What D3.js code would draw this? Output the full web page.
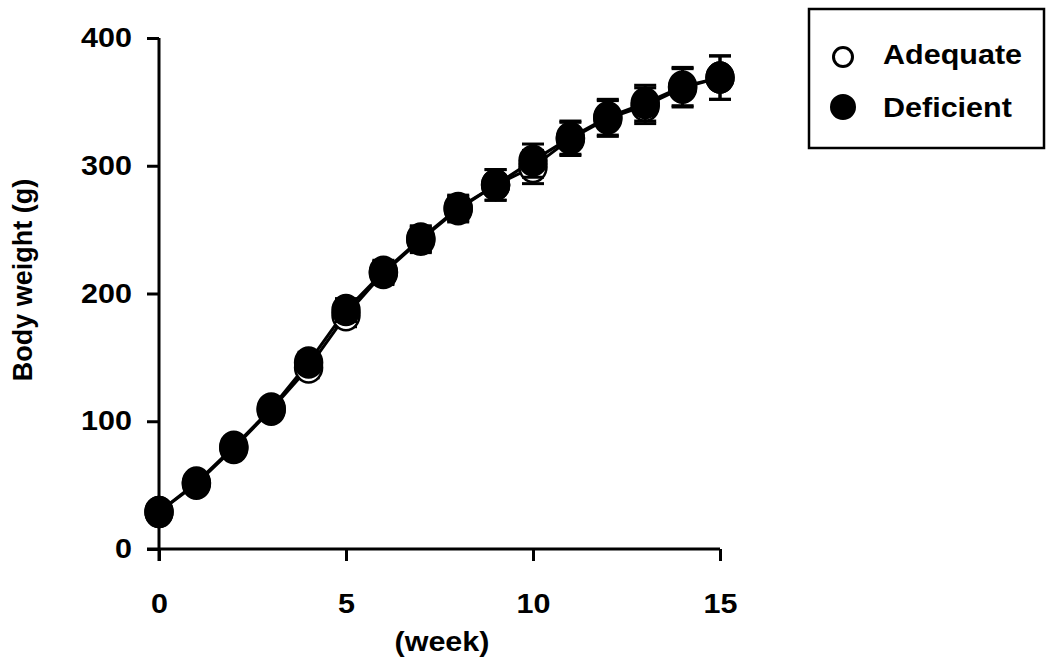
<!DOCTYPE html>
<html>
<head>
<meta charset="utf-8">
<script src="https://cdn.jsdelivr.net/npm/d3@7"></script>
<style>
  body { margin: 0; background: #fff; }
  svg { font-family: "Liberation Sans", Arial, Helvetica, sans-serif; font-weight: bold; }
</style>
</head>
<body>
<div id="chart"></div>
<script>
// weeks on the x axis
const weeks = [0, 1, 2, 3, 4, 5, 6, 7, 8, 9, 10, 11, 12, 13, 14, 15];
// body weight (g), means
const adequate  = [29, 51, 79, 109, 142, 183, 216, 242, 266, 285, 299, 321, 337, 347, 361, 369];
const deficient = [29, 52, 80, 110, 146, 187, 217, 243, 267, 285, 304, 322, 338, 349, 362, 369];
// error bars (SE)
const adequateErr  = [3, 3, 4, 5, 8, 9, 9, 10, 10, 12, 13, 13, 14, 14, 15, 17];
const deficientErr = [3, 3, 4, 5, 8, 9, 9, 10, 10, 12, 13, 13, 14, 14, 15, 17];
const xTicks = [0, 5, 10, 15];
const yTicks = [0, 100, 200, 300, 400];
const seriesNames = ["Adequate", "Deficient"];

const W = 1050, H = 665;
const FS = "27px";
const svg = d3.select("#chart").append("svg")
    .attr("width", W)
    .attr("height", H);

// the original's lettering is a bit wider than the font
function widen(sel) {
    sel.each(function () {
        let len = this.getComputedTextLength();
        d3.select(this).attr("textLength", len * 1.13).attr("lengthAdjust", "spacingAndGlyphs");
    });
}

let x = d3.scaleLinear().domain([0, 15]).range([159, 720]);
let y = d3.scaleLinear().domain([0, 400]).range([549, 38]);

// axes
let yAxis = d3.axisLeft(y).tickValues(yTicks).tickSize(12).tickPadding(15).tickSizeOuter(0);
let gy = svg.append("g").attr("transform", "translate(159,0)").call(yAxis);
let xAxis = d3.axisBottom(x).tickValues(xTicks).tickSize(12).tickPadding(33).tickSizeOuter(0);
let gx = svg.append("g").attr("transform", "translate(0,549)").call(xAxis);

[gx, gy].forEach(g => {
    g.select(".domain").attr("stroke", "#000").attr("stroke-width", 3);
    g.selectAll(".tick line").attr("stroke", "#000").attr("stroke-width", 3);
    g.selectAll(".tick text")
        .attr("fill", "#000")
        .style("font-size", FS)
        .style("font-family", "'Liberation Sans', Arial, sans-serif")
        .style("font-weight", "bold")
        .call(widen);
});
// stretch x-axis line back to the y tick
gx.select(".domain").attr("d", "M147,0H720");
gy.select(".domain").attr("d", "M0,38V561");

// axis titles
svg.append("text")
    .attr("x", 442).attr("y", 651)
    .attr("text-anchor", "middle")
    .style("font-size", FS)
    .text("(week)")
    .call(widen);

svg.append("text")
    .attr("transform", "translate(32,280) rotate(-90)")
    .attr("text-anchor", "middle")
    .style("font-size", FS)
    .text("Body weight (g)");

const series = [
    {name: "Adequate", vals: adequate, err: adequateErr, fill: "#fff"},
    {name: "Deficient", vals: deficient, err: deficientErr, fill: "#000"}
];

let line = d3.line()
    .x((d, i) => x(weeks[i]))
    .y(d => y(d));

series.forEach(s => {
    svg.append("path")
        .datum(s.vals)
        .attr("fill", "none")
        .attr("stroke", "#000")
        .attr("stroke-width", 3)
        .attr("d", line);
});

series.forEach(s => {
    let g = svg.append("g");
    let pts = weeks.map((w, i) => ({w: w, v: s.vals[i], e: s.err[i]}));
    // error bars
    g.selectAll("line.bar").data(pts).enter().append("line")
        .attr("x1", d => x(d.w)).attr("x2", d => x(d.w))
        .attr("y1", d => y(d.v + d.e)).attr("y2", d => y(d.v - d.e))
        .attr("stroke", "#000").attr("stroke-width", 3);
    g.selectAll("line.capT").data(pts).enter().append("line")
        .attr("x1", d => x(d.w) - 11).attr("x2", d => x(d.w) + 11)
        .attr("y1", d => y(d.v + d.e)).attr("y2", d => y(d.v + d.e))
        .attr("stroke", "#000").attr("stroke-width", 3);
    g.selectAll("line.capB").data(pts).enter().append("line")
        .attr("x1", d => x(d.w) - 11).attr("x2", d => x(d.w) + 11)
        .attr("y1", d => y(d.v - d.e)).attr("y2", d => y(d.v - d.e))
        .attr("stroke", "#000").attr("stroke-width", 3);
    g.selectAll("ellipse").data(pts).enter().append("ellipse")
        .attr("cx", d => x(d.w)).attr("cy", d => y(d.v))
        .attr("rx", 13.5).attr("ry", 15)
        .attr("fill", s.fill)
        .attr("stroke", "#000").attr("stroke-width", 2.5);
});

// legend
let lg = svg.append("g");
lg.append("rect")
    .attr("x", 809).attr("y", 9)
    .attr("width", 235).attr("height", 139)
    .attr("fill", "#fff").attr("stroke", "#000").attr("stroke-width", 2.5);
series.forEach((s, i) => {
    lg.append("circle")
        .attr("cx", 843).attr("cy", 57 + i * 50)
        .attr("r", s.fill === "#fff" ? 9.5 : 11.5)
        .attr("fill", s.fill)
        .attr("stroke", "#000").attr("stroke-width", 3);
    lg.append("text")
        .attr("x", 883).attr("y", 64 + i * 53)
        .style("font-size", FS)
        .text(seriesNames[i])
        .call(widen);
});
</script>
</body>
</html>
